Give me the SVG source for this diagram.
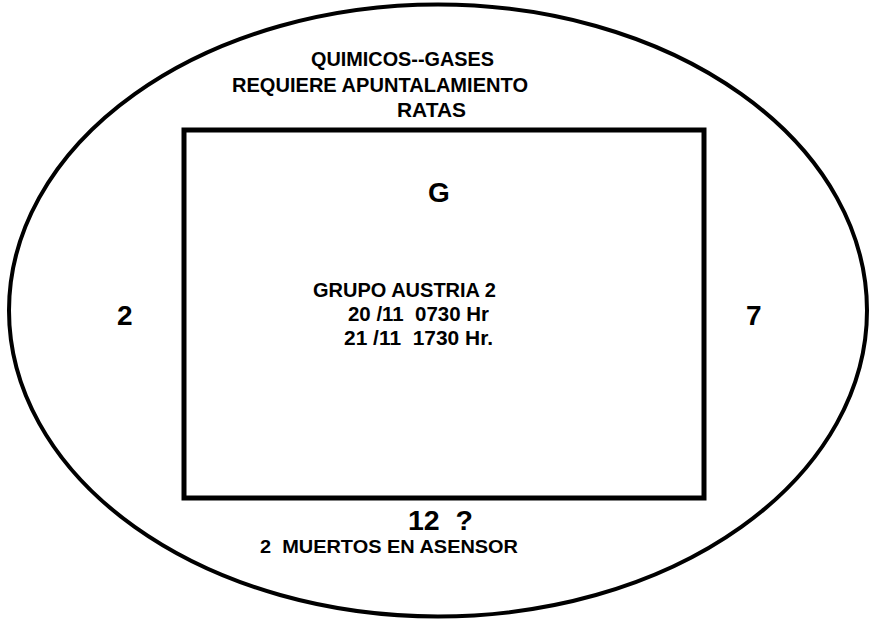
<svg xmlns="http://www.w3.org/2000/svg" width="869" height="619" viewBox="0 0 869 619">
<style>
.t{font-family:"Liberation Sans",Arial,sans-serif;font-weight:bold;fill:#000;white-space:pre}
.s{font-size:19.5px}
.b{font-size:28px}
.line{fill:none;stroke:#000}
</style>
<rect width="869" height="619" fill="#fff"/>
<g id="outer">
<ellipse class="line" cx="438" cy="310.5" rx="429" ry="306" stroke-width="4"/>
</g>
<g id="box">
<rect class="line" x="184" y="130" width="520" height="368" stroke-width="5"/>
</g>
<g id="labels">
<text class="t s" x="311" y="66" textLength="183" lengthAdjust="spacingAndGlyphs">QUIMICOS--GASES</text>
<text class="t s" x="232" y="92" textLength="296" lengthAdjust="spacingAndGlyphs">REQUIERE APUNTALAMIENTO</text>
<text class="t s" x="397" y="117" textLength="69" lengthAdjust="spacingAndGlyphs">RATAS</text>
<text class="t b" x="428" y="202">G</text>
<text class="t b" x="117" y="325">2</text>
<text class="t b" x="746" y="325">7</text>
<text class="t s" x="313" y="297" textLength="183" lengthAdjust="spacingAndGlyphs">GRUPO AUSTRIA 2</text>
<text class="t s" x="348" y="321" textLength="141" lengthAdjust="spacingAndGlyphs">20 /11  0730 Hr</text>
<text class="t s" x="344" y="345" textLength="149" lengthAdjust="spacingAndGlyphs">21 /11  1730 Hr.</text>
<text class="t" style="font-size:27px" x="408" y="530" textLength="65" lengthAdjust="spacingAndGlyphs">12  ?</text>
<text class="t" style="font-size:18px" x="260" y="553" textLength="258" lengthAdjust="spacingAndGlyphs">2  MUERTOS EN ASENSOR</text>
</g>
</svg>
